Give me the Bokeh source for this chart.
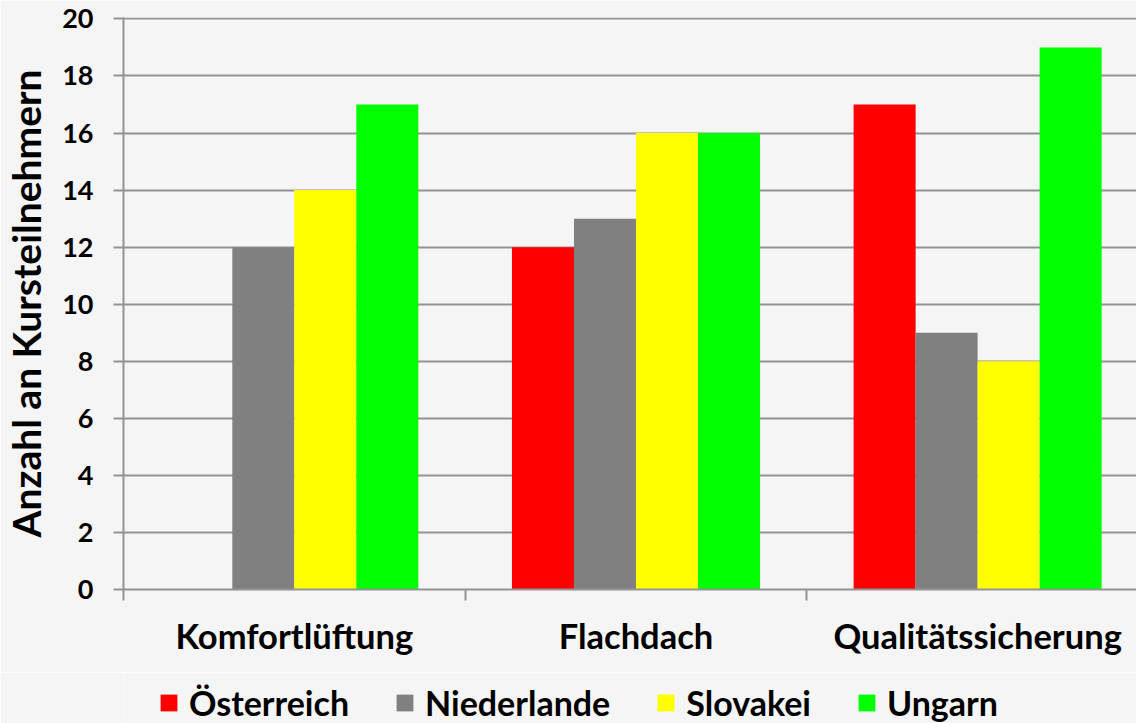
from bokeh.plotting import figure
from bokeh.layouts import column
from bokeh.models import Range1d, FixedTicker, Legend, LegendItem, ColumnDataSource
from bokeh.embed import file_html
from bokeh.resources import INLINE

categories = ["Komfortlüftung", "Flachdach", "Qualitätssicherung"]
series = ["Österreich", "Niederlande", "Slovakei", "Ungarn"]
colors = ["#ff0000", "#808080", "#ffff00", "#00ff00"]
oesterreich = [0, 12, 17]
niederlande = [12, 13, 9]
slovakei = [14, 16, 8]
ungarn = [17, 16, 19]
values = [oesterreich, niederlande, slovakei, ungarn]
y_ticks = list(range(0, 21, 2))

BG = "#f5f5f5"
FONT = "Lato"
GRID = "#939393"
W = 1136
H_MAIN = 672
H_LEG = 51
LEFT = 123

p = figure(width=W, height=H_MAIN, output_backend="svg", toolbar_location=None,
           x_range=Range1d(0, 2.965), y_range=Range1d(0, 20.05),
           min_border_left=LEFT, min_border_right=0, min_border_top=17,
           min_border_bottom=H_MAIN - 589)
p.background_fill_color = BG
p.border_fill_color = BG
p.outline_line_color = None

bw = 0.1815
sources = []
for i, (name, vals, col) in enumerate(zip(series, values, colors)):
    xs = [c + 0.5 + (i - 1.5) * bw for c in range(len(categories))]
    src = ColumnDataSource(dict(x=xs, top=vals))
    sources.append(src)
    p.vbar(x="x", top="top", width=bw, source=src, fill_color=col, line_color=None)

# grid
p.xgrid.grid_line_color = None
p.ygrid.ticker = FixedTicker(ticks=y_ticks)
p.ygrid.grid_line_color = GRID
p.ygrid.grid_line_width = 2

# y axis
p.yaxis.ticker = FixedTicker(ticks=y_ticks)
p.yaxis.axis_line_color = GRID
p.yaxis.axis_line_width = 2
p.yaxis.major_tick_line_color = GRID
p.yaxis.major_tick_line_width = 2
p.yaxis.major_tick_out = 10
p.yaxis.major_tick_in = 0
p.yaxis.minor_tick_line_color = None
p.yaxis.major_label_text_font = FONT
p.yaxis.major_label_text_font_style = "bold"
p.yaxis.major_label_text_font_size = "27px"
p.yaxis.major_label_text_color = "black"
p.yaxis.major_label_standoff = 20
p.yaxis.axis_label = "Anzahl an Kursteilnehmern"
p.yaxis.axis_label_text_font = FONT
p.yaxis.axis_label_text_font_style = "bold"
p.yaxis.axis_label_text_font_size = "39px"
p.yaxis.axis_label_text_color = "black"
p.yaxis.axis_label_standoff = 10

# x axis
p.xaxis.ticker = FixedTicker(ticks=[0.5, 1.5, 2.5], minor_ticks=[0, 1, 2, 3])
p.xaxis.major_label_overrides = {0.5: categories[0], 1.5: categories[1], 2.5: categories[2]}
p.xaxis.axis_line_color = GRID
p.xaxis.axis_line_width = 2
p.xaxis.major_tick_line_color = None
p.xaxis.minor_tick_line_color = GRID
p.xaxis.minor_tick_line_width = 2
p.xaxis.minor_tick_out = 11
p.xaxis.minor_tick_in = 0
p.xaxis.major_label_text_font = FONT
p.xaxis.major_label_text_font_style = "bold"
p.xaxis.major_label_text_font_size = "34.5px"
p.xaxis.major_label_text_color = "black"
p.xaxis.major_label_standoff = 14

# legend figure (its bars lie far outside its visible y range; only the legend shows)
lg = figure(width=W, height=H_LEG, output_backend="svg", toolbar_location=None,
            x_range=Range1d(0, 3), y_range=Range1d(1000, 1001),
            min_border_left=LEFT, min_border_right=0, min_border_top=0, min_border_bottom=0)
lg.axis.visible = False
lg.grid.visible = False
lg.background_fill_color = BG
lg.border_fill_color = BG
lg.outline_line_color = None
items = []
for name, col, src in zip(series, colors, sources):
    r = lg.vbar(x="x", top="top", width=bw, source=src, fill_color=col, line_color=None)
    items.append(LegendItem(label=name, renderers=[r]))
legend = Legend(items=items, orientation="horizontal", location=(35, 0),
                glyph_width=21, glyph_height=21, label_standoff=10, spacing=45,
                label_text_font=FONT, label_text_font_style="bold",
                label_text_font_size="34px", label_text_color="black",
                background_fill_alpha=0, border_line_color=None, padding=0, margin=0)
lg.add_layout(legend, "center")

layout = column(p, lg, spacing=0)
open("out.html", "w").write(file_html(layout, INLINE))
